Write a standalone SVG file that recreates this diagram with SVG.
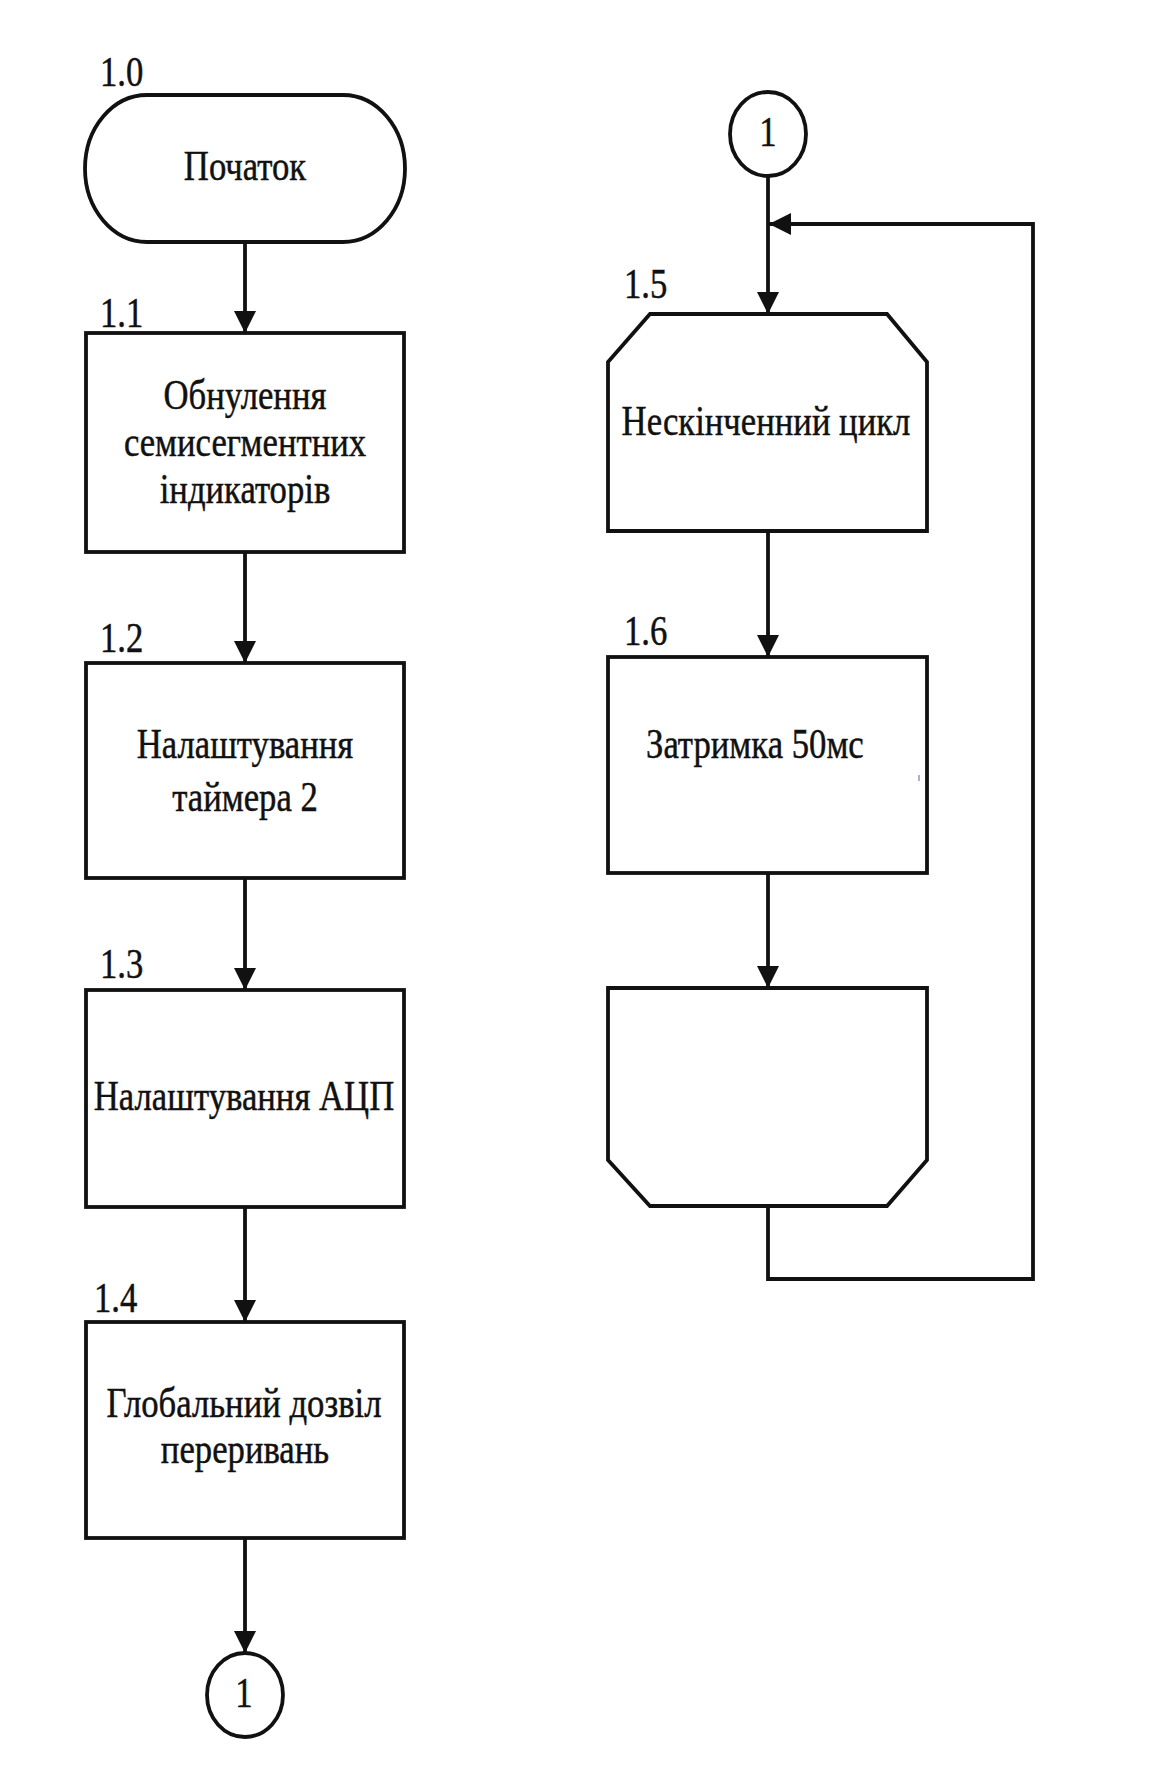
<svg xmlns="http://www.w3.org/2000/svg" width="1162" height="1784" viewBox="0 0 1162 1784">
<style>
.shape{fill:#fff;stroke:#111;stroke-width:3.8;stroke-linejoin:miter}
.conn{fill:none;stroke:#111;stroke-width:3.8}
.t{font-family:"Liberation Serif","Times New Roman",serif;font-size:34.7px;fill:#111;stroke:#111;stroke-width:0.4}
.m{text-anchor:middle}
</style>
<defs>
<marker id="arr" markerUnits="userSpaceOnUse" markerWidth="24" markerHeight="24" refX="22" refY="11" orient="auto">
<path d="M0,0 L22,11 L0,22 z" fill="#111"/>
</marker>
</defs>
<rect width="1162" height="1784" fill="#fff"/>
<g id="connectors">
<line class="conn" x1="245" y1="242" x2="245" y2="333" marker-end="url(#arr)"/>
<line class="conn" x1="245" y1="552" x2="245" y2="663" marker-end="url(#arr)"/>
<line class="conn" x1="245" y1="878" x2="245" y2="990" marker-end="url(#arr)"/>
<line class="conn" x1="245" y1="1207" x2="245" y2="1322" marker-end="url(#arr)"/>
<line class="conn" x1="245" y1="1538" x2="245" y2="1653" marker-end="url(#arr)"/>
<line class="conn" x1="768" y1="176" x2="768" y2="314" marker-end="url(#arr)"/>
<line class="conn" x1="768" y1="531" x2="768" y2="657" marker-end="url(#arr)"/>
<line class="conn" x1="768" y1="873" x2="768" y2="988" marker-end="url(#arr)"/>
<polyline class="conn" points="768,1206 768,1279 1033,1279 1033,224 769,224" marker-end="url(#arr)"/>
</g>
<g id="n10">
<rect class="shape" x="85" y="95" width="320" height="147" rx="62" ry="73.5"/>
<text class="t" transform="translate(100,86) scale(1,1.2)">1.0</text>
<text class="t m" transform="translate(245,180) scale(1,1.2)">Початок</text>
</g>
<g id="n11">
<rect class="shape" x="86" y="333" width="318" height="219"/>
<text class="t" transform="translate(100,327) scale(1,1.2)">1.1</text>
<text class="t m" transform="translate(245,409) scale(1,1.2)">Обнулення</text>
<text class="t m" transform="translate(245,456) scale(1,1.2)">семисегментних</text>
<text class="t m" transform="translate(245,503) scale(1,1.2)">індикаторів</text>
</g>
<g id="n12">
<rect class="shape" x="86" y="663" width="318" height="215"/>
<text class="t" transform="translate(100,652) scale(1,1.2)">1.2</text>
<text class="t m" transform="translate(245,758) scale(1,1.2)">Налаштування</text>
<text class="t m" transform="translate(245,811) scale(1,1.2)">таймера 2</text>
</g>
<g id="n13">
<rect class="shape" x="86" y="990" width="318" height="217"/>
<text class="t" transform="translate(100,978) scale(1,1.2)">1.3</text>
<text class="t m" transform="translate(244,1110) scale(1,1.2)">Налаштування АЦП</text>
</g>
<g id="n14">
<rect class="shape" x="86" y="1322" width="318" height="216"/>
<text class="t" transform="translate(94,1312) scale(1,1.2)">1.4</text>
<text class="t m" transform="translate(244,1417) scale(1,1.2)">Глобальний дозвіл</text>
<text class="t m" transform="translate(245,1463) scale(1,1.2)">переривань</text>
</g>
<g id="c1_out">
<ellipse class="shape" cx="245" cy="1695" rx="38" ry="42"/>
<text class="t m" transform="translate(244,1707) scale(1,1.2)">1</text>
</g>
<g id="c1_in">
<ellipse class="shape" cx="768" cy="134" rx="38" ry="42"/>
<text class="t m" transform="translate(768,146) scale(1,1.2)">1</text>
</g>
<g id="n15">
<polygon class="shape" points="608,362 650,314 887,314 927,362 927,531 608,531"/>
<text class="t" transform="translate(624,298) scale(1,1.2)">1.5</text>
<text class="t m" transform="translate(766,435) scale(1,1.2)">Нескінченний цикл</text>
</g>
<g id="n16">
<rect class="shape" x="608" y="657" width="319" height="216"/>
<text class="t" transform="translate(624,645) scale(1,1.2)">1.6</text>
<text class="t" transform="translate(646,758) scale(1,1.2)">Затримка 50мс</text>
<line x1="919" y1="775" x2="919" y2="781" stroke="#5566aa" stroke-width="1"/>
</g>
<g id="n17">
<polygon class="shape" points="608,988 927,988 927,1160 887,1206 650,1206 608,1160"/>
</g>
</svg>
